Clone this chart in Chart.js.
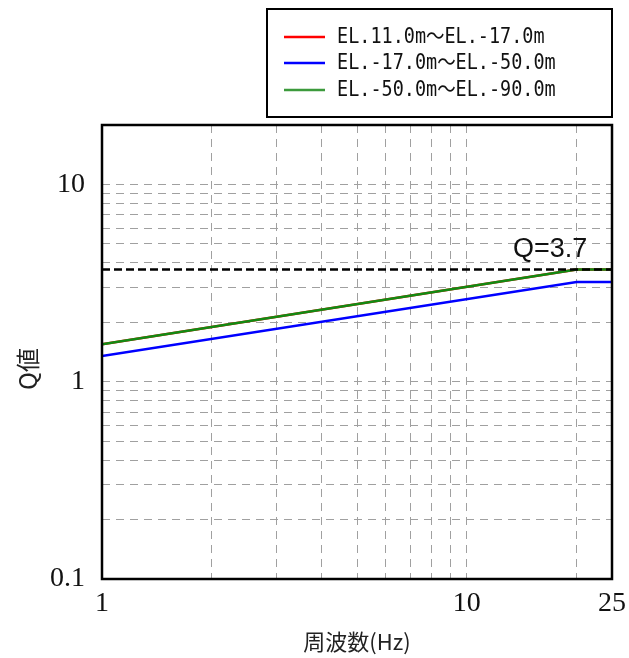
<!DOCTYPE html>
<html lang="ja">
<head>
    <meta charset="UTF-8">
    <title>Q値</title>
    <style>
        body {
            margin: 0;
            background: #fff;
        }

        #wrap {
            width: 629px;
            height: 658px;
        }
    </style>
    <script src="https://cdn.jsdelivr.net/npm/chart.js"></script>
</head>
<body>

    <div id="wrap">
        <canvas id="qChart" width="629" height="658"></canvas>
    </div>

    <script>
        // data
        var hz = [1, 20, 25];
        var qRed = [1.55, 3.7, 3.7];
        var qBlue = [1.35, 3.2, 3.2];
        var qGreen = [1.55, 3.7, 3.7];
        var limitHz = [1, 25];
        var limitQ = [3.7, 3.7];

        var seriesLabels = ['EL.11.0m～EL.-17.0m', 'EL.-17.0m～EL.-50.0m', 'EL.-50.0m～EL.-90.0m'];
        var seriesColors = ['#ff0000', '#0000ff', '#128a12'];
        var legendColors = ['#ff0000', '#0000ff', '#3c9a3c'];

        var xTicks = [1, 2, 3, 4, 5, 6, 7, 8, 9, 10, 20, 25];
        var xLabels = [1, 10, 25];
        var yTicks = [0.1, 0.2, 0.3, 0.4, 0.5, 0.6, 0.7, 0.8, 0.9, 1, 2, 3, 4, 5, 6, 7, 8, 9, 10, 20];
        var yLabels = [0.1, 1, 10];

        function points(xs, ys) {
            return xs.map(function (x, i) { return { x: x, y: ys[i] }; });
        }

        // frame, titles, legend box and the Q=3.7 note
        var decorPlugin = {
            id: 'decor',
            afterDraw: function (chart) {
                var ctx = chart.ctx;
                var a = chart.chartArea;
                var xs = chart.scales.x;
                var ys = chart.scales.y;

                ctx.save();
                ctx.strokeStyle = '#000';
                ctx.lineWidth = 2.5;
                ctx.strokeRect(a.left, a.top, a.right - a.left, a.bottom - a.top);

                // Q=3.7 label
                ctx.fillStyle = '#111';
                ctx.font = '27px "Liberation Sans", Arial, sans-serif';
                ctx.textAlign = 'right';
                ctx.textBaseline = 'alphabetic';
                ctx.fillText('Q=3.7', xs.getPixelForValue(21.4), ys.getPixelForValue(3.7) - 13);

                // axis titles
                ctx.fillStyle = '#222';
                ctx.font = '22px "Noto Sans CJK JP", sans-serif';
                ctx.textAlign = 'center';
                ctx.textBaseline = 'middle';
                ctx.fillText('周波数(Hz)', (a.left + a.right) / 2, 642);

                ctx.save();
                ctx.translate(28, 369);
                ctx.rotate(-Math.PI / 2);
                ctx.font = '24px "Noto Sans CJK JP", sans-serif';
                ctx.fillText('Q値', 0, 0);
                ctx.restore();

                // legend
                ctx.lineWidth = 2;
                ctx.strokeStyle = '#000';
                ctx.strokeRect(267, 9, 345, 108);
                var rows = [37, 63, 90];
                for (var i = 0; i < seriesLabels.length; i++) {
                    ctx.strokeStyle = legendColors[i];
                    ctx.lineWidth = 2.5;
                    ctx.beginPath();
                    ctx.moveTo(284, rows[i]);
                    ctx.lineTo(325, rows[i]);
                    ctx.stroke();

                    ctx.save();
                    ctx.translate(337, rows[i] + 1);
                    ctx.scale(0.88, 1);
                    ctx.fillStyle = '#111';
                    ctx.font = '21px "DejaVu Sans Mono", "Noto Sans CJK JP", monospace';
                    ctx.textAlign = 'left';
                    ctx.textBaseline = 'middle';
                    ctx.fillText(seriesLabels[i], 0, 0);
                    ctx.restore();
                }
                ctx.restore();
            }
        };

        var ctx = document.getElementById('qChart').getContext('2d');
        var qChart = new Chart(ctx, {
            type: 'line',
            data: {
                datasets: [
                    {
                        label: seriesLabels[0],
                        data: points(hz, qRed),
                        borderColor: seriesColors[0],
                        borderWidth: 2.5,
                        pointRadius: 0,
                        order: 3
                    },
                    {
                        label: seriesLabels[1],
                        data: points(hz, qBlue),
                        borderColor: seriesColors[1],
                        borderWidth: 2.5,
                        pointRadius: 0,
                        order: 2
                    },
                    {
                        label: seriesLabels[2],
                        data: points(hz, qGreen),
                        borderColor: seriesColors[2],
                        borderWidth: 2.5,
                        pointRadius: 0,
                        order: 1
                    },
                    {
                        label: 'Q=3.7',
                        data: points(limitHz, limitQ),
                        borderColor: '#000',
                        borderWidth: 2.5,
                        borderDash: [8, 4],
                        pointRadius: 0,
                        order: 0
                    }
                ]
            },
            options: {
                responsive: false,
                animation: false,
                layout: {
                    padding: { top: 125, right: 17, left: 0, bottom: 0 }
                },
                plugins: {
                    legend: { display: false },
                    tooltip: { enabled: false }
                },
                scales: {
                    x: {
                        type: 'logarithmic',
                        min: 1,
                        max: 25,
                        afterBuildTicks: function (scale) {
                            scale.ticks = xTicks.map(function (v) { return { value: v }; });
                        },
                        afterFit: function (scale) {
                            scale.height = 79;
                            scale.paddingLeft = 0;
                            scale.paddingRight = 0;
                        },
                        ticks: {
                            autoSkip: false,
                            maxRotation: 0,
                            padding: 8,
                            color: '#111',
                            font: { family: '"Liberation Serif", "Times New Roman", serif', size: 28 },
                            callback: function (v) {
                                return xLabels.indexOf(v) >= 0 ? String(v) : '';
                            }
                        },
                        grid: {
                            color: '#a0a0a0',
                            lineWidth: 1,
                            drawTicks: false
                        },
                        border: { display: false, dash: [8, 6] }
                    },
                    y: {
                        type: 'logarithmic',
                        min: 0.1,
                        max: 20,
                        afterBuildTicks: function (scale) {
                            scale.ticks = yTicks.map(function (v) { return { value: v }; });
                        },
                        afterFit: function (scale) {
                            scale.width = 102;
                            scale.paddingTop = 0;
                            scale.paddingBottom = 0;
                        },
                        ticks: {
                            autoSkip: false,
                            padding: 17,
                            color: '#111',
                            font: { family: '"Liberation Serif", "Times New Roman", serif', size: 28 },
                            callback: function (v) {
                                return yLabels.indexOf(v) >= 0 ? String(v) : '';
                            }
                        },
                        grid: {
                            color: '#a0a0a0',
                            lineWidth: 1,
                            drawTicks: false
                        },
                        border: { display: false, dash: [8, 6] }
                    }
                }
            },
            plugins: [decorPlugin]
        });
    </script>

</body>
</html>
